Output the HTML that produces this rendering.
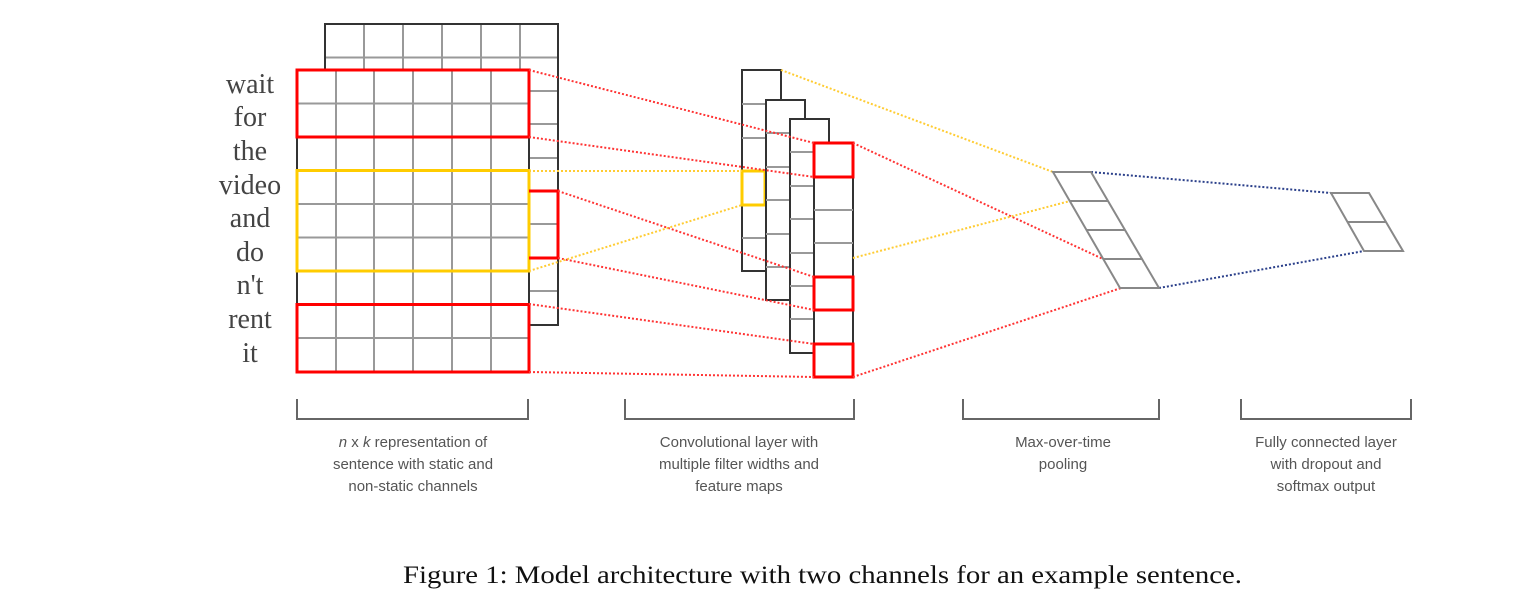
<!DOCTYPE html>
<html><head><meta charset="utf-8"><style>body{margin:0;background:#fff}svg{display:block}</style></head>
<body>
<svg width="1516" height="612" xmlns="http://www.w3.org/2000/svg">
<g stroke="#999" stroke-width="2" fill="none">
<path d="M364 24V70M403 24V70M442 24V70M481 24V70M520 24V70"/>
<path d="M325 57.5H558M529 91H558M529 124H558M529 158H558M529 224H558M529 291H558"/>
</g>
<rect x="325" y="24" width="233" height="301" fill="none" stroke="#333" stroke-width="2"/>
<rect x="297" y="70" width="232" height="302" fill="#fff" stroke="#333" stroke-width="2"/>
<g stroke="#999" stroke-width="2">
<path d="M336 70V372M374 70V372M413 70V372M452 70V372M491 70V372"/>
<path d="M297 103.5H529M297 137H529M297 170.5H529M297 204H529M297 237.5H529M297 271H529M297 304.5H529M297 338H529"/>
</g>
<g fill="none" stroke-width="3">
<rect x="297" y="70" width="232" height="67" stroke="#f00"/>
<rect x="297" y="304.5" width="232" height="67.5" stroke="#f00"/>
<rect x="297" y="170.5" width="232" height="100.5" stroke="#fc0"/>
<path d="M529 191H558V258H529" stroke="#f00"/>
</g>
<g font-family="'Liberation Serif',serif" font-size="28" fill="#444" text-anchor="middle">
<text x="250" y="93">wait</text><text x="250" y="126">for</text><text x="250" y="160">the</text>
<text x="250" y="194">video</text><text x="250" y="227">and</text><text x="250" y="261">do</text>
<text x="250" y="294">n't</text><text x="250" y="328">rent</text><text x="250" y="362">it</text>
</g>
<rect x="742" y="70" width="39" height="201" fill="#fff" stroke="#333" stroke-width="2"/>
<g stroke="#999" stroke-width="2"><path d="M742 104H766M742 138H766M742 238H766"/></g>
<rect x="742" y="171" width="23" height="34" fill="none" stroke="#fc0" stroke-width="3"/>
<rect x="766" y="100" width="39" height="200" fill="#fff" stroke="#333" stroke-width="2"/>
<g stroke="#999" stroke-width="2"><path d="M766 133H790M766 167H790M766 200H790M766 234H790M766 267H790"/></g>
<rect x="790" y="119" width="39" height="234" fill="#fff" stroke="#333" stroke-width="2"/>
<g stroke="#999" stroke-width="2"><path d="M790 152H814M790 186H814M790 219H814M790 253H814M790 286H814M790 319H814"/></g>
<rect x="814" y="143" width="39" height="234" fill="#fff" stroke="#333" stroke-width="2"/>
<g stroke="#999" stroke-width="2"><path d="M814 210H853M814 243H853"/></g>
<g fill="none" stroke="#f00" stroke-width="3">
<rect x="814" y="143" width="39" height="34"/><rect x="814" y="277" width="39" height="33"/><rect x="814" y="344" width="39" height="33"/>
</g>
<g fill="none" stroke-width="2" stroke-dasharray="2 2">
<g stroke="#f33">
<path d="M529 70L814 143M529 137L814 177M558 191L814 277M558 258L814 310M529 304L814 344M529 372L814 377"/>
<path d="M853 143L1103 259M853 377L1121 288"/>
</g>
<g stroke="#fc3">
<path d="M529 171L742 171M529 271L742 205M781 70L1053 172M853 258L1070 201"/>
</g>
<g stroke="#2a3f8a">
<path d="M1091 172L1331 193M1159 288L1364 251"/>
</g>
</g>
<g fill="none" stroke="#888" stroke-width="2">
<path d="M1053 172H1091L1159 288H1120Z"/>
<path d="M1070 201H1108M1087 230H1125M1103 259H1142"/>
<path d="M1331 193H1369L1403 251H1364Z"/>
<path d="M1348 222H1386"/>
</g>
<g fill="none" stroke="#666" stroke-width="2">
<path d="M297 399V419H528V399"/><path d="M625 399V419H854V399"/>
<path d="M963 399V419H1159V399"/><path d="M1241 399V419H1411V399"/>
</g>
<g font-family="'Liberation Sans',sans-serif" font-size="15" fill="#555" text-anchor="middle">
<text x="413" y="447"><tspan font-style="italic">n</tspan> x <tspan font-style="italic">k</tspan> representation of</text>
<text x="413" y="469">sentence with static and</text>
<text x="413" y="491">non-static channels</text>
<text x="739" y="447">Convolutional layer with</text>
<text x="739" y="469">multiple filter widths and</text>
<text x="739" y="491">feature maps</text>
<text x="1063" y="447">Max-over-time</text>
<text x="1063" y="469">pooling</text>
<text x="1326" y="447">Fully connected layer</text>
<text x="1326" y="469">with dropout and</text>
<text x="1326" y="491">softmax output</text>
</g>
<text x="403" y="583" font-family="'Liberation Serif',serif" font-size="25" fill="#111" textLength="839" lengthAdjust="spacingAndGlyphs">Figure 1: Model architecture with two channels for an example sentence.</text>
</svg>
</body></html>
